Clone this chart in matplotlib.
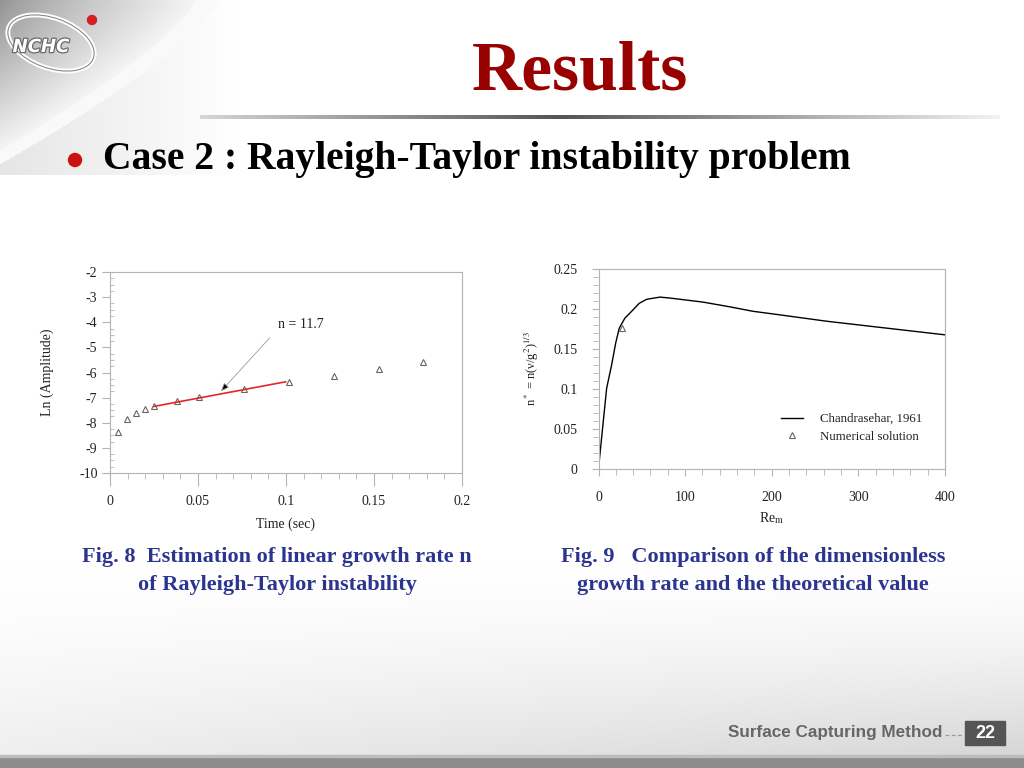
import numpy as np
import matplotlib
matplotlib.use("Agg")
import matplotlib.pyplot as plt
import matplotlib.patheffects as pe
from matplotlib.patches import Ellipse, Circle, Rectangle
from matplotlib.ticker import MultipleLocator

plt.rcParams['font.family'] = ['Liberation Serif', 'DejaVu Serif']
plt.rcParams['mathtext.fontset'] = 'stix'
plt.rcParams['axes.unicode_minus'] = False

# Fig. 8 data: ln(amplitude) vs time
time_sec = [0.0045, 0.0096, 0.0147, 0.0198, 0.025, 0.0378, 0.0507,
            0.0762, 0.1017, 0.127, 0.1526, 0.178]
ln_amp = [-8.38, -7.85, -7.63, -7.47, -7.32, -7.15, -6.98,
          -6.65, -6.38, -6.12, -5.85, -5.59]
fit_t = [0.025, 0.0998]
fit_y = [-7.35, -6.37]

# Fig. 9 data: dimensionless growth rate vs Re_m
re_m = [0, 9.4, 15.2, 19.8, 24, 30.5, 38.3, 47, 55.5, 71, 82.4, 120.8,
        151.6, 178.4, 209, 263, 339.8, 400]
n_star = [0, 0.1005, 0.13, 0.157, 0.176, 0.1885, 0.197, 0.207, 0.212,
          0.2148, 0.2136, 0.2085, 0.2026, 0.197, 0.1926, 0.1846, 0.175, 0.1675]
num_re = [27.5]
num_n = [0.176]

W, H = 1024, 768
fig = plt.figure(figsize=(W / 100, H / 100), dpi=100)

# ---- slide background ----
bg = fig.add_axes([0, 0, 1, 1])
bg.set_xlim(0, W)
bg.set_ylim(H, 0)
bg.axis('off')

yy, xx = np.mgrid[0:H, 0:W].astype(float)
img = np.ones((H, W))
s = xx / 195.0 + (yy / 150.0) ** 1.3
rect = (xx < 238) & (yy < 175)
dark = rect & (s < 1.0)
img[dark] = 0.58 + 0.38 * s[dark] ** 0.8
band = rect & (s >= 1.0) & (s < 1.12)
img[band] = 0.98
light = rect & (s >= 1.12)
img[light] = 0.90 + 0.10 * (xx[light] / 238.0)
# faint grey toward the footer
low = yy > 560
img[low] = np.minimum(img[low], 1 - 0.16 * ((yy[low] - 560) / 195.0) ** 1.5 * (0.4 + 0.6 * xx[low] / W))
img = np.clip(img, 0, 1)
bg.imshow(np.dstack([img] * 3), extent=(0, W, H, 0), aspect='auto', zorder=0)

# title separator line with gradient
grad = np.linspace(0, 1, 400)
line_col = np.ones((1, 400, 3))
shade = 0.33 + 0.62 * np.abs(grad - 0.45) / 0.55
line_col[0, :, :] = np.clip(shade, 0, 0.97)[:, None]
bg.imshow(line_col, extent=(200, 1000, 119, 115), aspect='auto', zorder=1)

# bottom bar
bg.add_patch(Rectangle((0, 757), W, 11, color='#8c8c8c', zorder=2))
bg.add_patch(Rectangle((0, 755), W, 2, color='#bdbdbd', zorder=2))

# logo
bg.add_patch(Ellipse((51, 43), 90, 50, angle=20, fill=False, ec='white', lw=3.5, zorder=3))
bg.add_patch(Ellipse((51, 43), 90, 50, angle=20, fill=False, ec='#8a8a8a', lw=0.8, zorder=3))
bg.add_patch(Circle((92, 20), 4.5, color='#d42020', zorder=4))
bg.text(41, 47, 'NCHC', fontsize=13, fontweight='bold', style='italic', color='white',
        family='DejaVu Sans', ha='center', va='center', zorder=5,
        path_effects=[pe.withStroke(linewidth=1.8, foreground='#6a6a6a')])

# titles
bg.text(580, 72, 'Results', fontsize=50, fontweight='bold', color='#990000',
        ha='center', va='center', zorder=5)
bg.add_patch(Circle((75, 160), 6.5, color='#cc1111', zorder=5))
bg.text(103, 159, 'Case 2 : Rayleigh-Taylor instability problem', fontsize=28.5,
        fontweight='bold', color='black', ha='left', va='center', zorder=5)

cap_col = '#2b3590'
bg.text(277, 557, 'Fig. 8  Estimation of linear growth rate n', fontsize=16,
        fontweight='bold', color=cap_col, ha='center', va='center', zorder=5)
bg.text(277, 585, 'of Rayleigh-Taylor instability', fontsize=16,
        fontweight='bold', color=cap_col, ha='center', va='center', zorder=5)
bg.text(753, 557, 'Fig. 9   Comparison of the dimensionless', fontsize=16,
        fontweight='bold', color=cap_col, ha='center', va='center', zorder=5)
bg.text(753, 585, 'growth rate and the theoretical value', fontsize=16,
        fontweight='bold', color=cap_col, ha='center', va='center', zorder=5)

# footer
bg.text(942, 733, 'Surface Capturing Method', fontsize=12.3, fontweight='bold',
        family='Liberation Sans', color='#666666', ha='right', va='center', zorder=5)
bg.plot([945, 963], [735, 735], ls=(0, (3, 2)), color='#999999', lw=0.9, zorder=5)
bg.add_patch(Rectangle((965, 721), 40, 24, color='#555555', zorder=5))
bg.text(985, 733, '22', fontsize=13, fontweight='bold', family='Liberation Sans',
        color='white', ha='center', va='center', zorder=6)

spine_col = '#b3b3b3'
txt_col = '#222222'
fs = 10


def style_axes(ax):
    ax.set_facecolor('none')
    for sp in ax.spines.values():
        sp.set_color(spine_col)
        sp.set_linewidth(0.8)
    ax.tick_params(which='both', colors=spine_col, labelcolor=txt_col, labelsize=fs,
                   direction='out', top=False, right=False)


# ---- Fig. 8 ----
ax1 = fig.add_axes([110 / W, 1 - 473 / H, 352 / W, 201 / H])
style_axes(ax1)
ax1.plot(time_sec, ln_amp, ls='none', marker='^', ms=5, mfc='none', mec='#666666', mew=0.8)
ax1.plot(fit_t, fit_y, color='#e02828', lw=1.2)
ax1.annotate('n = 11.7', xy=(0.063, -6.75), xytext=(0.0955, -4.1),
             fontsize=fs, color=txt_col, va='center', ha='left',
             arrowprops=dict(arrowstyle='-|>,head_length=0.5,head_width=0.2',
                             ec='#9a9a9a', fc='black', lw=0.6,
                             shrinkA=6, shrinkB=0, relpos=(0, 0.2)))
ax1.set_xlim(0, 0.2)
ax1.set_ylim(-10, -2)
ax1.xaxis.set_major_locator(MultipleLocator(0.05))
ax1.xaxis.set_minor_locator(MultipleLocator(0.01))
ax1.yaxis.set_major_locator(MultipleLocator(1))
ax1.yaxis.set_minor_locator(MultipleLocator(0.25))
ax1.set_xticks([0, 0.05, 0.1, 0.15, 0.2])
ax1.set_xticklabels(['0', '0.05', '0.1', '0.15', '0.2'])
ax1.tick_params(axis='x', which='major', length=9, pad=7)
ax1.tick_params(axis='x', which='minor', length=4)
ax1.tick_params(axis='y', which='major', length=6, pad=3)
ax1.tick_params(axis='y', which='minor', length=3, direction='in')
ax1.set_xlabel('Time (sec)', fontsize=fs, color=txt_col, labelpad=7)
ax1.set_ylabel('Ln (Amplitude)', fontsize=fs, color=txt_col, labelpad=18)

# ---- Fig. 9 ----
ax2 = fig.add_axes([598.5 / W, 1 - 468.5 / H, 346.5 / W, 199.5 / H])
style_axes(ax2)
ax2.plot(re_m, n_star, color='black', lw=1.0, label='Chandrasehar, 1961')
ax2.plot(num_re, num_n, ls='none', marker='^', ms=5, mfc='none', mec='#666666', mew=0.8,
         label='Numerical solution')
ax2.set_xlim(0, 400)
ax2.set_ylim(0, 0.25)
ax2.xaxis.set_major_locator(MultipleLocator(100))
ax2.xaxis.set_minor_locator(MultipleLocator(20))
ax2.yaxis.set_major_locator(MultipleLocator(0.05))
ax2.yaxis.set_minor_locator(MultipleLocator(0.01))
ax2.set_yticks([0, 0.05, 0.1, 0.15, 0.2, 0.25])
ax2.set_yticklabels(['0', '0.05', '0.1', '0.15', '0.2', '0.25'])
ax2.tick_params(axis='x', which='major', length=5, pad=11)
ax2.tick_params(axis='x', which='minor', length=4)
ax2.tick_params(axis='y', which='major', length=5, pad=10)
ax2.tick_params(axis='y', which='minor', length=4)
ax2.set_xlabel('Re$_{\\mathrm{m}}$', fontsize=fs, color=txt_col, labelpad=5)
ax2.set_ylabel('n$^*$ = n(\u03bd/g$^2$)$^{1/3}$', fontsize=9, color=txt_col, labelpad=9)
leg = ax2.legend(loc='lower right', bbox_to_anchor=(0.968, 0.07), frameon=False,
                 fontsize=9.3, handlelength=1.7, handletextpad=1.3, labelspacing=0.45)
for t in leg.get_texts():
    t.set_color(txt_col)

fig.savefig('out.png', dpi=100)
